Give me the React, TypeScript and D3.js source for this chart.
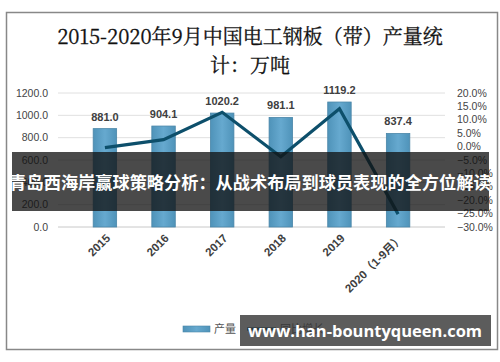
import React, { useEffect, useRef } from 'react';
import * as d3 from 'd3';

const years = ['2015', '2016', '2017', '2018', '2019', '2020（1-9月）'];
const output = [881.0, 904.1, 1020.2, 981.1, 1119.2, 837.4];
const growth = [-0.4, 2.6, 12.8, -3.8, 14.1, -25.2];
const leftTicks = [0, 200, 400, 600, 800, 1000, 1200];
const rightTicks = [20, 15, 10, 5, 0, -5, -10, -15, -20, -25, -30];

const App = () => {
  const svgRef = useRef<SVGSVGElement>(null);

  useEffect(() => {
    const svg = d3.select(svgRef.current);
    svg.selectAll('*').remove();
    const margin = { left: 58, right: 55, top: 93, bottom: 135 };
    const innerW = 445 - margin.left;
    const innerH = 227 - margin.top;
    const font = '"Liberation Sans", "Noto Sans CJK SC", sans-serif';

    // frame
    svg.append('rect')
      .attr('x', 6.5).attr('y', 12.5).attr('width', 491).attr('height', 337)
      .attr('fill', 'white').attr('stroke', '#888').attr('stroke-width', 1.5);

    // title
    const title = svg.append('text')
      .attr('text-anchor', 'middle')
      .attr('font-family', '"Noto Serif CJK SC", "DejaVu Serif", "Noto Sans CJK SC", serif')
      .attr('font-size', 20)
      .attr('fill', '#111')
      .attr('stroke', '#111').attr('stroke-width', 0.3);
    title.append('tspan').attr('x', 250).attr('y', 44).text('2015-2020年9月中国电工钢板（带）产量统');
    title.append('tspan').attr('x', 250).attr('y', 73).text('计：万吨');

    const x = d3.scaleBand().domain(years).range([0, innerW]).padding(0.6);
    const yL = d3.scaleLinear().domain([0, 1200]).range([innerH, 0]);
    const yR = d3.scaleLinear().domain([-30, 20]).range([innerH, 0]);

    const g = svg.append('g').attr('transform', `translate(${margin.left},${margin.top})`);

    // grid
    g.selectAll('.grid')
      .data(leftTicks)
      .enter().append('line')
      .attr('x1', 0).attr('x2', innerW)
      .attr('y1', d => yL(d)).attr('y2', d => yL(d))
      .attr('stroke', d => (d === 0 ? '#c8c8c8' : '#e0e0e0'))
      .attr('stroke-width', 1);

    // left axis labels
    g.selectAll('.yl')
      .data(leftTicks)
      .enter().append('text')
      .attr('x', -10).attr('y', d => yL(d))
      .attr('dy', '0.35em')
      .attr('text-anchor', 'end')
      .attr('font-family', font).attr('font-size', 10.5)
      .attr('fill', '#444')
      .text(d => d3.format('.1f')(d));

    // right axis labels
    g.selectAll('.yr')
      .data(rightTicks)
      .enter().append('text')
      .attr('x', innerW + 12).attr('y', d => yR(d))
      .attr('dy', '0.35em')
      .attr('font-family', font).attr('font-size', 10.5)
      .attr('fill', '#444')
      .text(d => d3.format('.1f')(d) + '%');

    // gradient for bars
    const defs = svg.append('defs');
    const grad = defs.append('linearGradient').attr('id', 'barGrad').attr('x1', 0).attr('x2', 1);
    grad.append('stop').attr('offset', '0%').attr('stop-color', '#4f93b9');
    grad.append('stop').attr('offset', '50%').attr('stop-color', '#66a9cf');
    grad.append('stop').attr('offset', '100%').attr('stop-color', '#4f93b9');

    g.selectAll('.bar')
      .data(output)
      .enter().append('rect')
      .attr('x', (d, i) => x(years[i])!)
      .attr('y', d => yL(d))
      .attr('width', x.bandwidth())
      .attr('height', d => innerH - yL(d))
      .attr('fill', 'url(#barGrad)')
      .attr('stroke', '#4a86a8').attr('stroke-width', 0.8);

    g.selectAll('.val')
      .data(output)
      .enter().append('text')
      .attr('x', (d, i) => x(years[i])! + x.bandwidth() / 2)
      .attr('y', d => yL(d) - 8)
      .attr('text-anchor', 'middle')
      .attr('font-family', font).attr('font-size', 11).attr('font-weight', 'bold')
      .attr('fill', '#404040')
      .text(d => d3.format('.1f')(d));

    const line = d3.line<number>()
      .x((d, i) => x(years[i])! + x.bandwidth() / 2)
      .y(d => yR(d));
    g.append('path')
      .attr('d', line(growth))
      .attr('fill', 'none')
      .attr('stroke', '#0d4f6b')
      .attr('stroke-width', 3.2)
      .attr('stroke-linejoin', 'miter');

    // x labels
    g.selectAll('.xl')
      .data(years)
      .enter().append('text')
      .attr('transform', d => `translate(${x(d)! + x.bandwidth() / 2 + 6},${innerH + 12}) rotate(-45)`)
      .attr('text-anchor', 'end')
      .attr('font-family', font).attr('font-size', 11.5).attr('font-weight', 'bold')
      .attr('fill', '#404040')
      .text(d => d);

    // legend
    const lg = svg.append('g').attr('font-family', font).attr('font-size', 11).attr('fill', '#555');
    lg.append('rect').attr('x', 183).attr('y', 326).attr('width', 27).attr('height', 6)
      .attr('fill', 'url(#barGrad)').attr('stroke', '#4a86a8').attr('stroke-width', 0.6);
    lg.append('text').attr('x', 214).attr('y', 333).attr('fill', '#555').text('产量');
    lg.append('line').attr('x1', 247).attr('x2', 276).attr('y1', 329).attr('y2', 329)
      .attr('stroke', '#0d4f6b').attr('stroke-width', 3.2);
    lg.append('text').attr('x', 280).attr('y', 333).attr('fill', '#555').text('同比增长');

    // banner overlay
    svg.append('rect')
      .attr('x', 12).attr('y', 152).attr('width', 477).attr('height', 59)
      .attr('fill', '#111').attr('opacity', 0.76);
    svg.append('text')
      .attr('x', 250).attr('y', 189)
      .attr('text-anchor', 'middle')
      .attr('font-family', '"Noto Sans CJK SC", sans-serif')
      .attr('font-size', 17.2).attr('font-weight', 'bold')
      .attr('fill', 'white')
      .text('青岛西海岸赢球策略分析：从战术布局到球员表现的全方位解读');

    // watermark
    svg.append('rect')
      .attr('x', 240).attr('y', 315).attr('width', 251).attr('height', 31)
      .attr('fill', '#333').attr('opacity', 0.8);
    svg.append('text')
      .attr('x', 365).attr('y', 337)
      .attr('text-anchor', 'middle')
      .attr('font-family', '"Open Sans", "DejaVu Sans", sans-serif')
      .attr('font-size', 16.5).attr('font-weight', 'bold')
      .attr('fill', 'white')
      .text('www.han-bountyqueen.com');
  }, []);

  return (
    <svg ref={svgRef} width={500} height={362}
      style={{ position: 'absolute', left: 0, top: 0, background: 'white' }} />
  );
};

export default App;
